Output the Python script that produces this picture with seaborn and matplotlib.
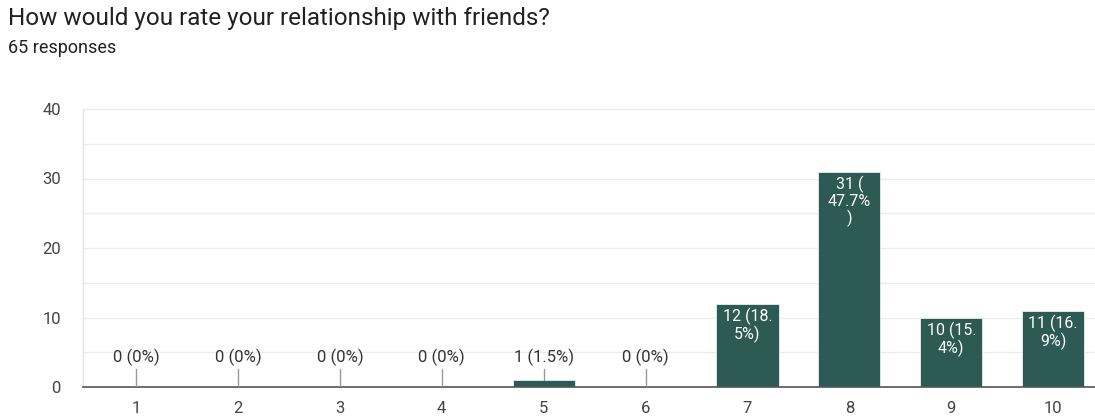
import matplotlib
matplotlib.use("Agg")
import matplotlib.pyplot as plt
import seaborn as sns
import pandas as pd

categories = ["1", "2", "3", "4", "5", "6", "7", "8", "9", "10"]
counts = [0, 0, 0, 0, 1, 0, 12, 31, 10, 11]
labels = ["0 (0%)", "0 (0%)", "0 (0%)", "0 (0%)", "1 (1.5%)", "0 (0%)",
          "12 (18.\n5%)", "31 (\n47.7%\n)", "10 (15.\n4%)", "11 (16.\n9%)"]
yticks = [0, 10, 20, 30, 40]

sns.set_style("white")
plt.rcParams['font.family'] = ['Roboto', 'DejaVu Sans']

df = pd.DataFrame({"rating": categories, "count": counts})

fig = plt.figure(figsize=(10.95, 4.2), dpi=100)
ax = fig.add_axes([83/1095, 1 - 387/420, 1 - 83/1095, (387 - 109)/420])

bar_color = "#2e5a55"
sns.barplot(data=df, x="rating", y="count", order=categories, color=bar_color,
            width=0.61, saturation=1, ax=ax, edgecolor="#e8efee", linewidth=0.6)

ax.set_ylim(0, 40)
ax.set_xlim(-0.52, 9.41)
ax.set_yticks(yticks)
ax.set_yticks([5, 15, 25, 35], minor=True)
ax.yaxis.grid(True, which="both", color="#ececec", linewidth=1)
ax.set_axisbelow(True)
for s in ["top", "right"]:
    ax.spines[s].set_visible(False)
ax.spines["left"].set_color("#e4e4e4")
ax.spines["left"].set_linewidth(1)
ax.spines["bottom"].set_color("#555555")
ax.spines["bottom"].set_linewidth(1.2)
ax.tick_params(axis="both", which="both", length=0, labelsize=12, colors="#444444")
ax.tick_params(axis="y", pad=16)
ax.tick_params(axis="x", pad=10)
ax.set_xlabel("")
ax.set_ylabel("")

for i, (c, lab) in enumerate(zip(counts, labels)):
    if c < 5:
        ax.plot([i, i], [c, 2.6], color="#999999", linewidth=1, zorder=3)
        ax.text(i, 3.0, lab, ha="center", va="bottom", fontsize=12,
                color="#333333")
    else:
        ax.annotate(lab, xy=(i, c), xytext=(0, -3), textcoords="offset points",
                    ha="center", va="top", fontsize=11.5, color="white",
                    linespacing=1.05)

fig.text(8/1095, 1 - 18/420, "How would you rate your relationship with friends?",
         fontsize=17.5, color="#212121", va="center", ha="left")
fig.text(8/1095, 1 - 48/420, "65 responses", fontsize=13, color="#212121",
         va="center", ha="left")

fig.savefig("out.png", dpi=100, facecolor="white")
